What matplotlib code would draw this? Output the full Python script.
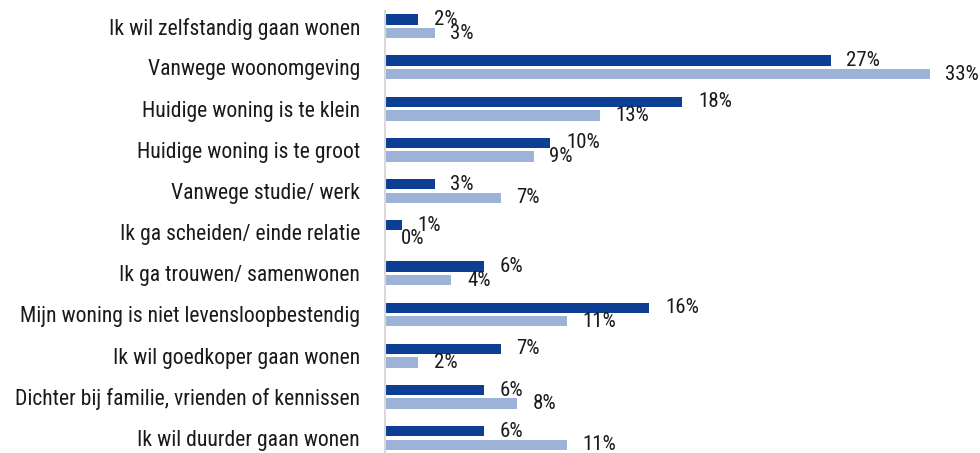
import numpy as np
import matplotlib
matplotlib.use("Agg")
import matplotlib.pyplot as plt
from matplotlib import font_manager

# pick a narrow font if one is installed, the reference uses a condensed face
fonts = font_manager.fontManager.ttflist
family, stretch = "DejaVu Sans", "normal"
for name, st in [("Liberation Sans Narrow", None), ("Roboto Condensed", None),
                 ("Open Sans Condensed", None), ("DejaVu Sans", "condensed"),
                 ("Noto Sans", "condensed"), ("Roboto", "condensed")]:
    found = [f for f in fonts if f.name == name and
             (st is None or str(f.stretch) in ("condensed", "semi-condensed", "extra-condensed"))]
    if found:
        family = name
        stretch = str(found[0].stretch) if st else "normal"
        break
plt.rcParams['font.family'] = [family, 'DejaVu Sans']
plt.rcParams['font.stretch'] = stretch

# categories, top to bottom
categories = [
    "Ik wil zelfstandig gaan wonen",
    "Vanwege woonomgeving",
    "Huidige woning is te klein",
    "Huidige woning is te groot",
    "Vanwege studie/ werk",
    "Ik ga scheiden/ einde relatie",
    "Ik ga trouwen/ samenwonen",
    "Mijn woning is niet levensloopbestendig",
    "Ik wil goedkoper gaan wonen",
    "Dichter bij familie, vrienden of kennissen",
    "Ik wil duurder gaan wonen",
]
dark_values = [2, 27, 18, 10, 3, 1, 6, 16, 7, 6, 6]
light_values = [3, 33, 13, 9, 7, 0, 4, 11, 2, 8, 11]

dark_color = "#0C3F93"
light_color = "#9CB2D6"

fig = plt.figure(figsize=(9.8, 4.53), dpi=100)
ax = fig.add_axes([385 / 980, -0.0124, 595 / 980, 1.0])

# size the fonts so the text widths match the reference
renderer = fig.canvas.get_renderer()
t = fig.text(0, 0, "Mijn woning is niet levensloopbestendig", fontsize=14)
w = t.get_window_extent(renderer).width
cat_size = min(14 * 342 / w, 17)
t.set_text("27%")
w = t.get_window_extent(renderer).width
num_size = min(14 * 35 / w, 15)
t.remove()

y = np.arange(len(categories))
h = 0.25
off = 0.165

ax.barh(y - off, dark_values, height=h, color=dark_color)
ax.barh(y + off, light_values, height=h, color=light_color)

for yi, v in zip(y, dark_values):
    ax.annotate(f"{v}%", (v, yi - off), xytext=(11.5, 0), textcoords="offset points",
                ha="left", va="center", fontsize=num_size, color="#1a1a1a")
for yi, v in zip(y, light_values):
    ax.annotate(f"{v}%", (v, yi + off), xytext=(11.5, 0), textcoords="offset points",
                ha="left", va="center", fontsize=num_size, color="#1a1a1a")

ax.set_xlim(0, 36.06)
ax.set_ylim(len(categories) - 0.5, -0.5)
ax.set_yticks(y)
ax.set_yticklabels(categories, fontsize=cat_size, color="#1a1a1a")
ax.tick_params(axis="y", length=0, pad=18)
ax.set_xticks([])

for s in ["top", "right", "bottom"]:
    ax.spines[s].set_visible(False)
ax.spines["left"].set_color("#d9d9d9")
ax.spines["left"].set_linewidth(1.5)
ax.spines["left"].set_bounds(-0.38, len(categories) - 0.5)

fig.savefig("out.png", dpi=100)
